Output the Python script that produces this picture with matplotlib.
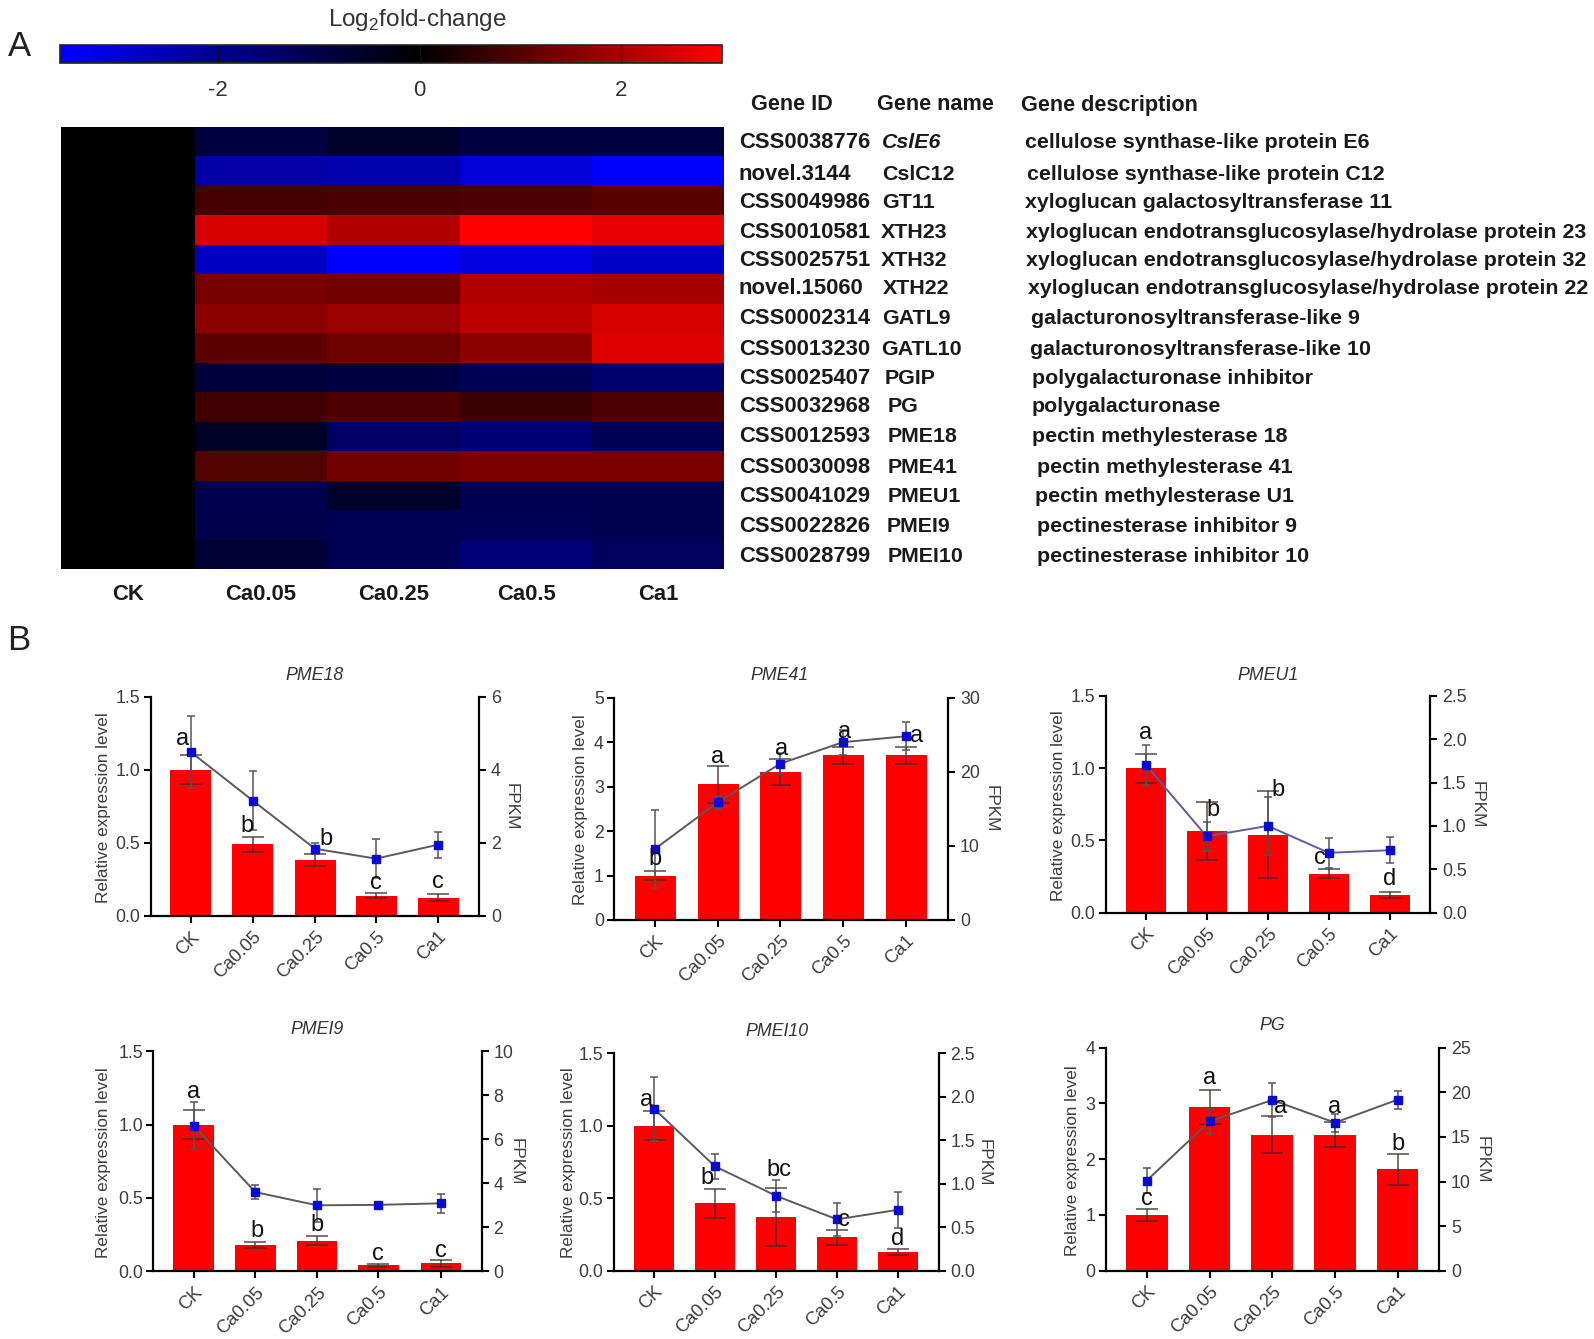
import matplotlib
matplotlib.use('Agg')
import matplotlib.pyplot as plt
import numpy as np
from matplotlib.colors import LinearSegmentedColormap, Normalize

plt.rcParams['font.family'] = ['Liberation Sans', 'DejaVu Sans']

W, H = 1594, 1339

# heatmap, log2 fold-change per treatment
GROUPS = ['CK', 'Ca0.05', 'Ca0.25', 'Ca0.5', 'Ca1']
HM_CK = [0] * 15
HM_CA005 = [-0.85, -2.3, 0.8, 2.5, -2.7, 1.4, 1.65, 1.1, -0.8, 0.75, -0.5, 0.95, -1.1, -1.05, -0.75]
HM_CA025 = [-0.6, -2.4, 0.85, 2.1, -3.57, 1.35, 1.8, 1.3, -0.95, 0.9, -1.4, 1.35, -0.6, -1.2, -1.2]
HM_CA05 = [-0.9, -3.0, 0.9, 3.0, -3.1, 2.1, 2.2, 1.65, -1.2, 0.65, -1.6, 1.45, -1.15, -1.2, -1.65]
HM_CA1 = [-0.9, -3.57, 1.0, 2.7, -2.8, 1.95, 2.5, 2.6, -1.5, 0.9, -1.2, 1.45, -1.15, -1.15, -1.3]

GENE_IDS = ['CSS0038776', 'novel.3144', 'CSS0049986', 'CSS0010581', 'CSS0025751', 'novel.15060',
            'CSS0002314', 'CSS0013230', 'CSS0025407', 'CSS0032968', 'CSS0012593', 'CSS0030098',
            'CSS0041029', 'CSS0022826', 'CSS0028799']
GENE_NAMES = ['CslE6', 'CslC12', 'GT11', 'XTH23', 'XTH32', 'XTH22', 'GATL9', 'GATL10', 'PGIP', 'PG',
              'PME18', 'PME41', 'PMEU1', 'PMEI9', 'PMEI10']
GENE_DESC = ['cellulose synthase-like protein E6', 'cellulose synthase-like protein C12',
             'xyloglucan galactosyltransferase 11', 'xyloglucan endotransglucosylase/hydrolase protein 23',
             'xyloglucan endotransglucosylase/hydrolase protein 32',
             'xyloglucan endotransglucosylase/hydrolase protein 22', 'galacturonosyltransferase-like 9',
             'galacturonosyltransferase-like 10', 'polygalacturonase inhibitor', 'polygalacturonase',
             'pectin methylesterase 18', 'pectin methylesterase 41', 'pectin methylesterase U1',
             'pectinesterase inhibitor 9', 'pectinesterase inhibitor 10']

# bar panels: relative expression (bars) and FPKM (line)
PME18_BARS = [1.0, 0.49, 0.385, 0.14, 0.125]
PME18_BAR_ERR = [0.1, 0.05, 0.04, 0.02, 0.025]
PME18_FPKM = [4.49, 3.16, 1.84, 1.57, 1.95]
PME18_FPKM_ERR = [0.98, 0.8, 0.15, 0.54, 0.35]
PME18_LETTERS = ['a', 'b', 'b', 'c', 'c']

PME41_BARS = [1.0, 3.05, 3.33, 3.7, 3.7]
PME41_BAR_ERR = [0.11, 0.41, 0.3, 0.2, 0.19]
PME41_FPKM = [9.6, 15.9, 21.1, 24.0, 24.8]
PME41_FPKM_ERR = [5.3, 0.9, 1.4, 1.7, 1.9]
PME41_LETTERS = ['b', 'a', 'a', 'a', 'a']

PMEU1_BARS = [1.0, 0.565, 0.54, 0.27, 0.12]
PMEU1_BAR_ERR = [0.1, 0.2, 0.3, 0.03, 0.02]
PMEU1_FPKM = [1.7, 0.88, 1.0, 0.69, 0.72]
PMEU1_FPKM_ERR = [0.23, 0.17, 0.33, 0.17, 0.15]
PMEU1_LETTERS = ['a', 'b', 'b', 'c', 'd']

PMEI9_BARS = [1.0, 0.18, 0.21, 0.04, 0.055]
PMEI9_BAR_ERR = [0.1, 0.02, 0.03, 0.01, 0.025]
PMEI9_FPKM = [6.62, 3.6, 3.0, 3.02, 3.09]
PMEI9_FPKM_ERR = [1.07, 0.32, 0.75, 0.12, 0.44]
PMEI9_LETTERS = ['a', 'b', 'b', 'c', 'c']

PMEI10_BARS = [1.0, 0.465, 0.37, 0.23, 0.13]
PMEI10_BAR_ERR = [0.1, 0.1, 0.2, 0.05, 0.02]
PMEI10_FPKM = [1.86, 1.2, 0.86, 0.59, 0.7]
PMEI10_FPKM_ERR = [0.37, 0.14, 0.18, 0.19, 0.21]
PMEI10_LETTERS = ['a', 'b', 'bc', 'c', 'd']

PG_BARS = [1.0, 2.94, 2.44, 2.44, 1.82]
PG_BAR_ERR = [0.11, 0.3, 0.33, 0.22, 0.28]
PG_FPKM = [10.1, 16.74, 19.13, 16.6, 19.17]
PG_FPKM_ERR = [1.4, 1.4, 1.9, 1.0, 1.0]
PG_LETTERS = ['c', 'a', 'a', 'a', 'b']

# layout for the heatmap and its table, in pixels
COL_EDGES = [61, 195, 327, 460, 592, 724]
ROW_Y = [143, 174, 202, 232, 260, 289, 318, 349, 379, 407, 437, 467, 496, 527, 556]
NAME_X = [882, 882, 882, 881, 881, 883, 882, 881, 885, 888, 888, 888, 888, 887, 888]
DESC_X = [1025, 1027, 1025, 1026, 1026, 1028, 1031, 1030, 1032, 1032, 1032, 1037, 1035, 1037, 1037]

BLUE_BLACK_RED = LinearSegmentedColormap.from_list(
    'bbr', [(0, '#0000ff'), (3.57 / 6.57, '#000000'), (1, '#ff0000')])


def px_axes(fig, left, right, top, bottom):
    return fig.add_axes([left / W, 1 - bottom / H, (right - left) / W, (bottom - top) / H])


def px_text(fig, x, y, s, **kwargs):
    kwargs.setdefault('ha', 'center')
    kwargs.setdefault('va', 'center')
    return fig.text(x / W, 1 - y / H, s, **kwargs)


def draw_heatmap(fig):
    values = np.array([HM_CK, HM_CA005, HM_CA025, HM_CA05, HM_CA1]).T
    norm = Normalize(-3.57, 3)
    ax = px_axes(fig, 61, 724, 127, 569)
    mesh = ax.pcolormesh(COL_EDGES, np.arange(16), values, cmap=BLUE_BLACK_RED, norm=norm)
    ax.invert_yaxis()
    ax.set_xticks([])
    ax.set_yticks([])
    for spine in ax.spines.values():
        spine.set_visible(False)

    cax = px_axes(fig, 60, 722, 45, 63)
    cbar = fig.colorbar(mesh, cax=cax, orientation='horizontal')
    cbar.set_ticks([-2, 0, 2], labels=['-2', '0', '2'])
    cax.tick_params(direction='in', length=13, width=0.9, pad=12, labelsize=16,
                    labelcolor='#333333', color='#111111')
    cbar.outline.set_linewidth(1.2)
    cbar.outline.set_edgecolor('#222222')
    px_text(fig, 417, 20, 'Log$_{\\mathregular{2}}$fold-change', fontsize=17.5, color='#333333')

    for i, group in enumerate(GROUPS):
        px_text(fig, (COL_EDGES[i] + COL_EDGES[i + 1]) / 2, 595, group, fontsize=15.8,
                fontweight='bold', color='#1a1a1a')

    table = dict(fontweight='bold', color='#1a1a1a', ha='left')
    px_text(fig, 751, 105, 'Gene ID', fontsize=15.6, **table)
    px_text(fig, 877, 105, 'Gene name', fontsize=15.6, **table)
    px_text(fig, 1021, 105, 'Gene description', fontsize=15.6, **table)
    for i, y in enumerate(ROW_Y):
        px_text(fig, 739, y, GENE_IDS[i], fontsize=15.8, **table)
        style = 'italic' if i == 0 else 'normal'
        px_text(fig, NAME_X[i], y, GENE_NAMES[i], fontsize=15.4, fontstyle=style, **table)
        px_text(fig, DESC_X[i], y, GENE_DESC[i], fontsize=15.4, **table)


def draw_panel(fig, title, bars, bar_err, fpkm, fpkm_err, letters, box, centers, bar_w,
               left_ticks, left_fmt, right_ticks, right_fmt, title_pos, ylabel_x, fpkm_pos,
               letter_pos, line_color='#5a5a5a'):
    left, right, top, bottom = box
    ax = px_axes(fig, left, right, top, bottom)
    step = (centers[-1] - centers[0]) / 4
    x = np.array([(c - centers[0]) / step for c in centers])
    ax.set_xlim((left - centers[0]) / step, (right - centers[0]) / step)
    ax.set_ylim(left_ticks[0], left_ticks[-1])

    ax.bar(x, bars, width=bar_w / step, color='#ff0000', edgecolor='none')
    ax.errorbar(x, bars, yerr=bar_err, fmt='none', ecolor='#3a2a2a', elinewidth=1.1,
                capsize=8, capthick=1.1, alpha=0.85)
    ax.set_xticks(x)
    ax.set_xticklabels(GROUPS, rotation=45, ha='right', va='top', rotation_mode='anchor')
    ax.set_yticks(left_ticks)
    ax.set_yticklabels([left_fmt % t for t in left_ticks])
    ax.tick_params(length=5, width=1.5, labelsize=12.8, labelcolor='#3c3c3c', pad=2.5)
    ax.tick_params(axis='x', pad=4, labelsize=13.2)
    ax.spines['top'].set_visible(False)
    ax.spines['right'].set_visible(False)
    ax.spines['left'].set_linewidth(1.6)
    ax.spines['bottom'].set_linewidth(1.6)

    ax2 = ax.twinx()
    ax2.set_ylim(right_ticks[0], right_ticks[-1])
    ax2.errorbar(x, fpkm, yerr=fpkm_err, fmt='none', ecolor='#555555', elinewidth=1.1,
                 capsize=2.8, capthick=1.1)
    ax2.plot(x, fpkm, color=line_color, lw=1.4)
    ax2.plot(x, fpkm, ls='none', marker='s', ms=5.6, color='#0a0ad2')
    ax2.set_yticks(right_ticks)
    ax2.set_yticklabels([right_fmt % t for t in right_ticks])
    ax2.tick_params(length=5, width=1.5, labelsize=12.8, labelcolor='#3c3c3c', pad=3.5)
    ax2.spines['top'].set_visible(False)
    ax2.spines['left'].set_visible(False)
    ax2.spines['bottom'].set_visible(False)
    ax2.spines['right'].set_linewidth(1.6)

    for xi, letter, (dx, ly) in zip(x, letters, letter_pos):
        ax2.text(xi + dx, ly, letter, transform=ax.transData, ha='center', va='center',
                 fontsize=17, color='#111111')

    px_text(fig, title_pos[0], title_pos[1], title, fontsize=12.8, fontstyle='italic', color='#333333')
    px_text(fig, ylabel_x, (top + bottom) / 2 + 1, 'Relative expression level', rotation=90,
            fontsize=12.3, color='#3c3c3c')
    px_text(fig, fpkm_pos[0], fpkm_pos[1], 'FPKM', rotation=270, fontsize=12.3, color='#3c3c3c')


def main():
    fig = plt.figure(figsize=(W / 100, H / 100), dpi=100)
    px_text(fig, 19, 47, 'A', fontsize=25, color='#222222')
    px_text(fig, 19, 640, 'B', fontsize=25, color='#222222')

    draw_heatmap(fig)

    draw_panel(fig, 'PME18', PME18_BARS, PME18_BAR_ERR, PME18_FPKM, PME18_FPKM_ERR, PME18_LETTERS,
               (150.7, 479, 696.7, 916), [190.7, 252.7, 315, 376, 438], 41,
               [0, 0.5, 1.0, 1.5], '%.1f', [0, 2, 4, 6], '%d', (315, 675), 103, (511, 807),
               [(-0.13, 1.21), (-0.1, 0.617), (0.17, 0.53), (0, 0.225), (0, 0.23)])
    draw_panel(fig, 'PME41', PME41_BARS, PME41_BAR_ERR, PME41_FPKM, PME41_FPKM_ERR, PME41_LETTERS,
               (614.3, 948.3, 697.7, 920), [655, 718, 780.3, 843, 906], 41,
               [0, 1, 2, 3, 4, 5], '%d', [0, 10, 20, 30], '%d', (780, 675), 580, (991, 809),
               [(0, 1.38), (0, 3.67), (0.02, 3.85), (0.03, 4.23), (0.17, 4.13)])
    draw_panel(fig, 'PMEU1', PMEU1_BARS, PMEU1_BAR_ERR, PMEU1_FPKM, PMEU1_FPKM_ERR, PMEU1_LETTERS,
               (1105.7, 1430, 695.7, 912.7), [1146, 1206.7, 1268, 1328.7, 1390], 40,
               [0, 0.5, 1.0, 1.5], '%.1f', [0, 0.5, 1.0, 1.5, 2.0, 2.5], '%.1f', (1268, 675), 1059, (1477, 805),
               [(0, 1.24), (0.1, 0.71), (0.16, 0.85), (-0.14, 0.38), (0, 0.23)], line_color='#5c5ca0')
    draw_panel(fig, 'PMEI9', PMEI9_BARS, PMEI9_BAR_ERR, PMEI9_FPKM, PMEI9_FPKM_ERR, PMEI9_LETTERS,
               (153.3, 481.7, 1051.3, 1271.3), [193.7, 255.3, 317, 378.3, 441], 40.7,
               [0, 0.5, 1.0, 1.5], '%.1f', [0, 2, 4, 6, 8, 10], '%d', (317, 1030), 103, (516, 1162),
               [(0, 1.225), (0.02, 0.275), (0, 0.315), (0, 0.12), (0, 0.14)])
    draw_panel(fig, 'PMEI10', PMEI10_BARS, PMEI10_BAR_ERR, PMEI10_FPKM, PMEI10_FPKM_ERR, PMEI10_LETTERS,
               (613.7, 938.7, 1053.3, 1270.7), [654.3, 715, 776.3, 837, 897.7], 40,
               [0, 0.5, 1.0, 1.5], '%.1f', [0, 0.5, 1.0, 1.5, 2.0, 2.5], '%.1f', (777, 1032), 568, (984, 1163),
               [(-0.13, 1.18), (-0.13, 0.64), (0.05, 0.695), (0.12, 0.35), (0, 0.22)])
    draw_panel(fig, 'PG', PG_BARS, PG_BAR_ERR, PG_FPKM, PG_FPKM_ERR, PG_LETTERS,
               (1105.7, 1439.3, 1047.7, 1270.7), [1146.7, 1209.6, 1272.2, 1335, 1397.6], 41.7,
               [0, 1, 2, 3, 4], '%d', [0, 5, 10, 15, 20, 25], '%d', (1272.5, 1025), 1072, (1482, 1160),
               [(0, 1.28), (0, 3.45), (0.13, 2.93), (0, 2.94), (0, 2.28)])

    fig.savefig('out.png', dpi=100)


if __name__ == '__main__':
    main()
